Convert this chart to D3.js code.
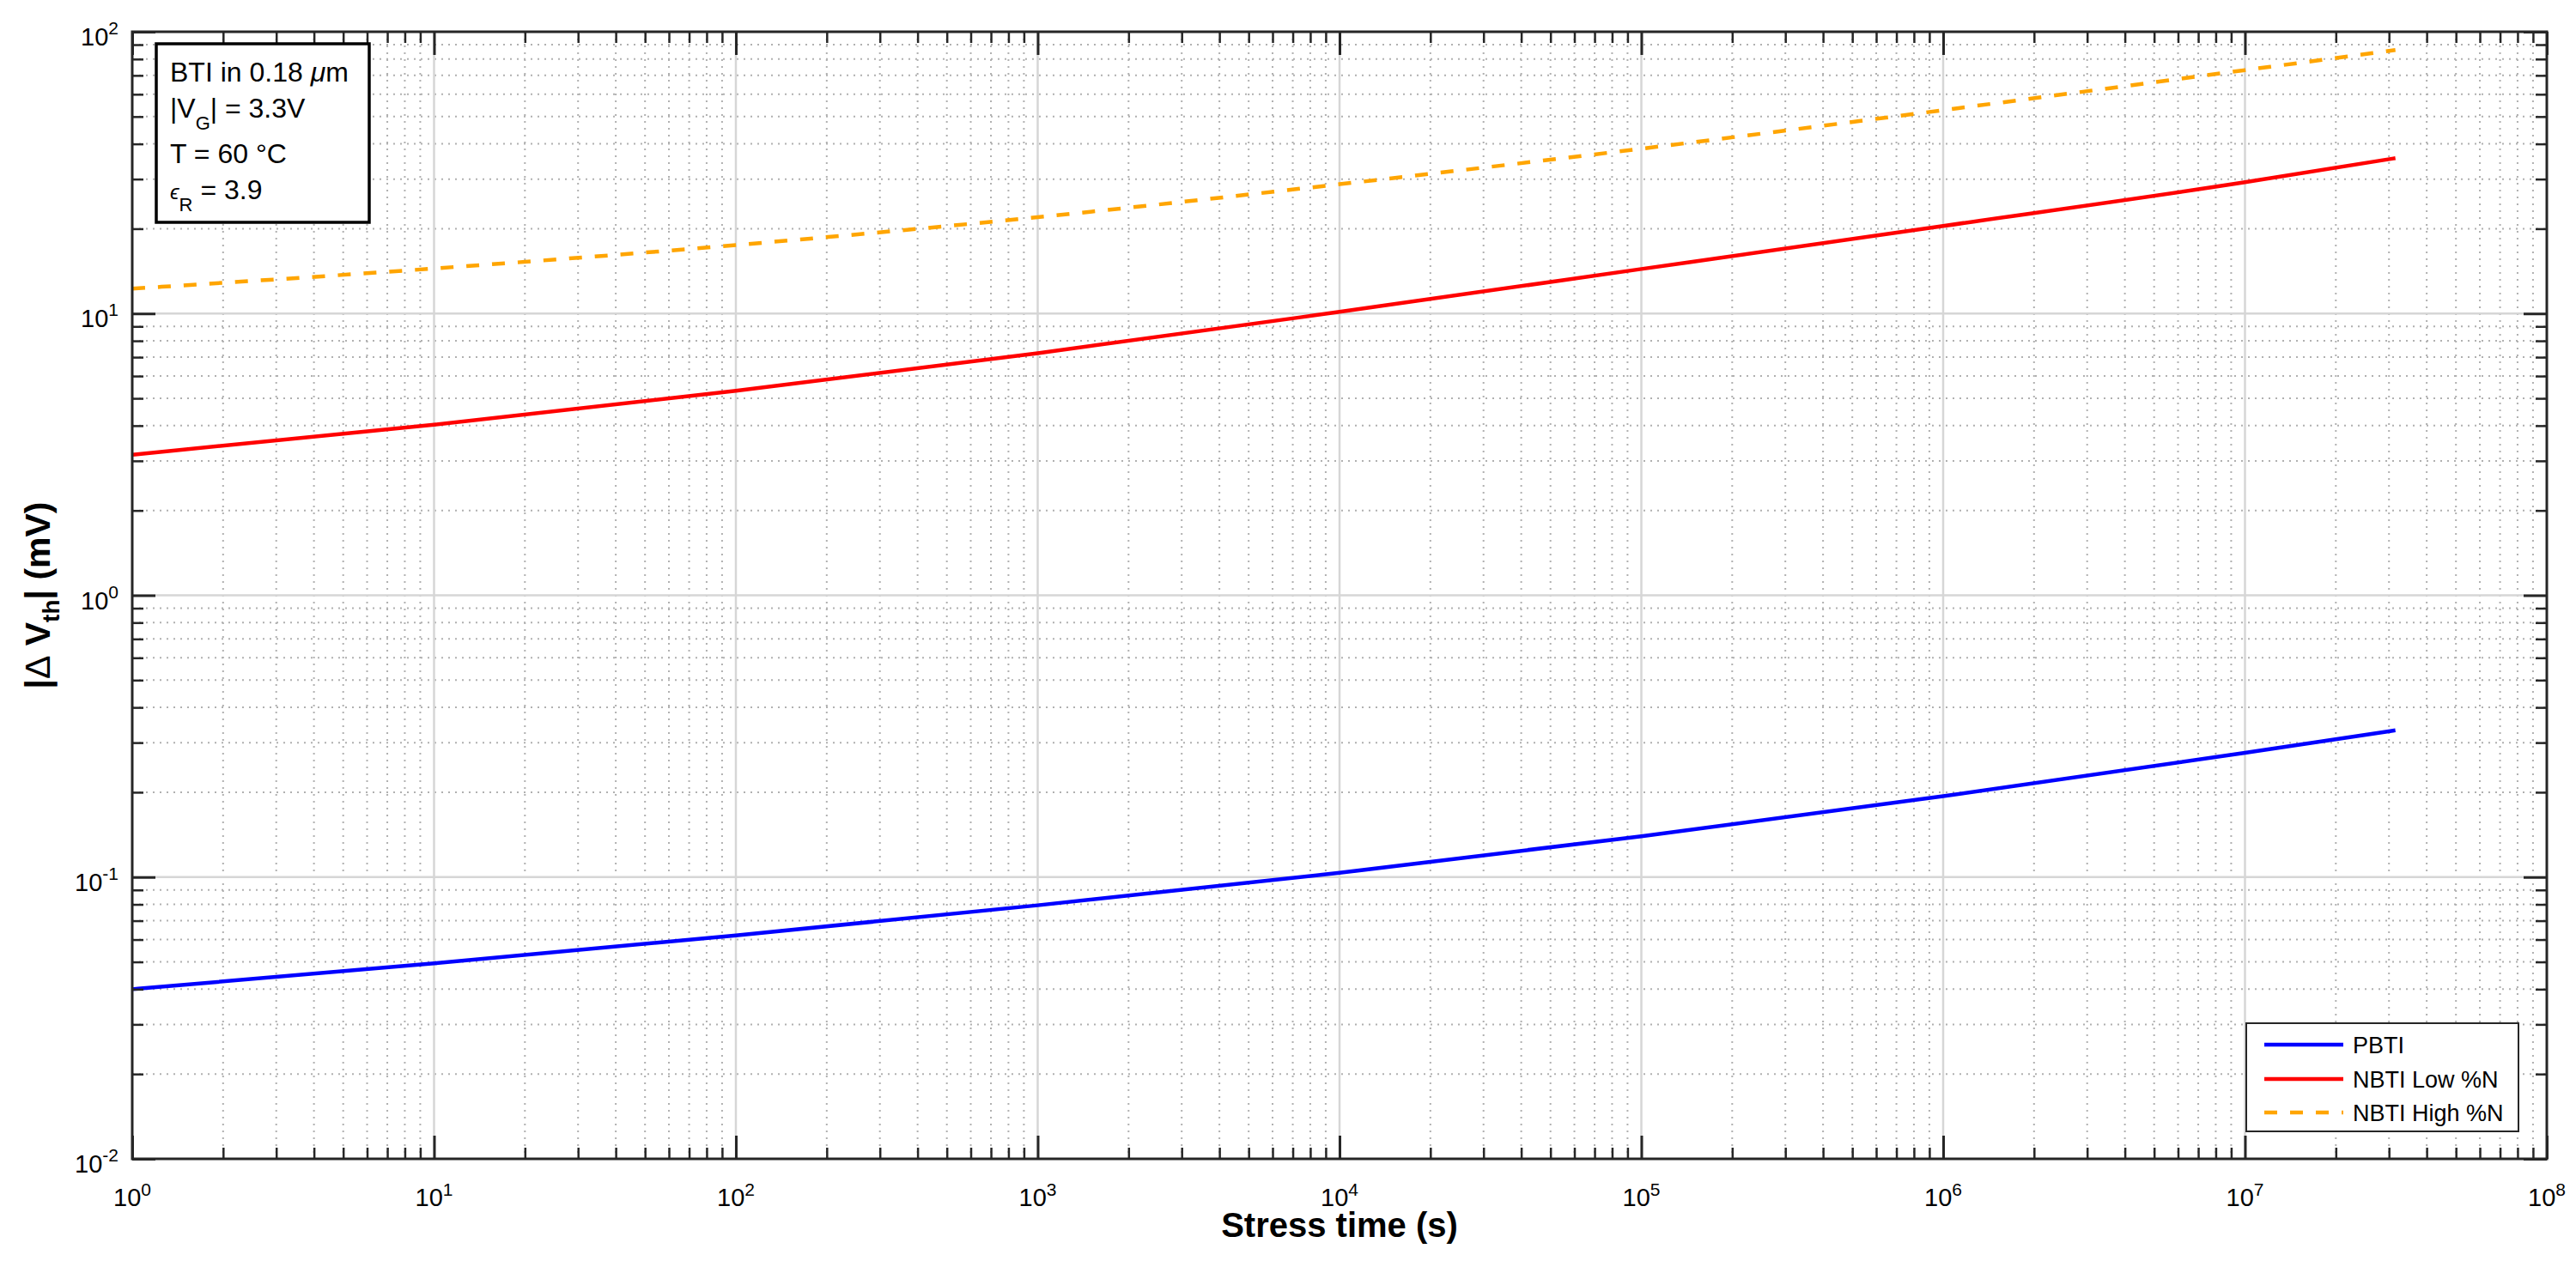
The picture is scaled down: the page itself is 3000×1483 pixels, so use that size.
<!DOCTYPE html>
<html><head><meta charset="utf-8">
<script src="https://cdn.jsdelivr.net/npm/d3@7"></script>
<style>
body{margin:0;background:#fff}
text{font-family:"Liberation Sans",Arial,Helvetica,sans-serif;fill:#000}
</style>
</head><body>
<svg id="chart" width="3000" height="1483"></svg>
<script>
// ---- data ----
const stressTime = [1, 10, 100, 1e3, 1e4, 1e5, 1e6, 1e7, 3.15e7];
const pbti     = [0.0400, 0.0494, 0.0621, 0.0794, 0.1035, 0.1396, 0.1936, 0.2761, 0.3319];
const nbtiLow  = [3.155, 4.03, 5.32, 7.23, 10.14, 14.39, 20.46, 29.24, 35.6];
const nbtiHigh = [12.25, 14.45, 17.5, 21.98, 28.77, 38.46, 52.7, 73.1, 86.1];
const seriesNames  = ["PBTI", "NBTI Low %N", "NBTI High %N"];
const seriesColors = ["#0000ff", "#ff0000", "#ffa500"];
const seriesDash   = [null, null, "15,15"];
const xTickExps = [0, 1, 2, 3, 4, 5, 6, 7, 8];
const yTickExps = [-2, -1, 0, 1, 2];
const infoLines = ["BTI in 0.18 ", "|V", "| = 3.3V", "T = 60 °C", " = 3.9"];

// ---- layout ----
const L = 154, R = 2966, T = 37, B = 1350;
const svg = d3.select("#chart");
svg.append("rect").attr("width", 3000).attr("height", 1483).attr("fill", "#fff");

const x = d3.scaleLog().domain([1, 1e8]).range([L, R]);
const y = d3.scaleLog().domain([1e-2, 1e2]).range([B, T]);

const xMajor = xTickExps.map(e => Math.pow(10, e));
const yMajor = yTickExps.map(e => Math.pow(10, e));
const xMinor = [], yMinor = [];
for (let e = 0; e < 8; e++) for (let k = 2; k <= 9; k++) xMinor.push(k * Math.pow(10, e));
for (let e = -2; e < 2; e++) for (let k = 2; k <= 9; k++) yMinor.push(k * Math.pow(10, e));

// ---- grid ----
const grid = svg.append("g");
grid.selectAll(".gxm").data(xMinor).join("line")
  .attr("x1", d => x(d)).attr("x2", d => x(d)).attr("y1", T).attr("y2", B)
  .attr("stroke", "#b0b0b0").attr("stroke-width", 2).attr("stroke-dasharray", "2,6");
grid.selectAll(".gym").data(yMinor).join("line")
  .attr("y1", d => y(d)).attr("y2", d => y(d)).attr("x1", L).attr("x2", R)
  .attr("stroke", "#b0b0b0").attr("stroke-width", 2).attr("stroke-dasharray", "2,6");
grid.selectAll(".gxM").data(xMajor.slice(1, -1)).join("line")
  .attr("x1", d => x(d)).attr("x2", d => x(d)).attr("y1", T).attr("y2", B)
  .attr("stroke", "#d6d6d6").attr("stroke-width", 2.5);
grid.selectAll(".gyM").data(yMajor.slice(1, -1)).join("line")
  .attr("y1", d => y(d)).attr("y2", d => y(d)).attr("x1", L).attr("x2", R)
  .attr("stroke", "#d6d6d6").attr("stroke-width", 2.5);

// ---- curves ----
const allSeries = [pbti, nbtiLow, nbtiHigh];
const line = d3.line().x(d => x(d[0])).y(d => y(d[1])).curve(d3.curveMonotoneX);
allSeries.forEach((vals, i) => {
  svg.append("path")
    .attr("d", line(stressTime.map((t, j) => [t, vals[j]])))
    .attr("fill", "none").attr("stroke", seriesColors[i]).attr("stroke-width", 4.5)
    .attr("stroke-dasharray", seriesDash[i]);
});

// ---- axes (ticks) ----
const axCol = "#262626";
function styleAxis(g, w) {
  g.select(".domain").remove();
  g.selectAll("line").attr("stroke", axCol).attr("stroke-width", w);
  g.selectAll("text").remove();
}
svg.append("g").attr("transform", `translate(0,${B})`)
  .call(d3.axisBottom(x).tickValues(xMajor).tickSizeInner(-27).tickSizeOuter(0).tickFormat(""))
  .call(g => styleAxis(g, 3));
svg.append("g").attr("transform", `translate(0,${B})`)
  .call(d3.axisBottom(x).tickValues(xMinor).tickSizeInner(-13).tickSizeOuter(0).tickFormat(""))
  .call(g => styleAxis(g, 2.5));
svg.append("g").attr("transform", `translate(0,${T})`)
  .call(d3.axisTop(x).tickValues(xMajor).tickSizeInner(-27).tickSizeOuter(0).tickFormat(""))
  .call(g => styleAxis(g, 3));
svg.append("g").attr("transform", `translate(0,${T})`)
  .call(d3.axisTop(x).tickValues(xMinor).tickSizeInner(-13).tickSizeOuter(0).tickFormat(""))
  .call(g => styleAxis(g, 2.5));
svg.append("g").attr("transform", `translate(${L},0)`)
  .call(d3.axisLeft(y).tickValues(yMajor).tickSizeInner(-27).tickSizeOuter(0).tickFormat(""))
  .call(g => styleAxis(g, 3));
svg.append("g").attr("transform", `translate(${L},0)`)
  .call(d3.axisLeft(y).tickValues(yMinor).tickSizeInner(-13).tickSizeOuter(0).tickFormat(""))
  .call(g => styleAxis(g, 2.5));
svg.append("g").attr("transform", `translate(${R},0)`)
  .call(d3.axisRight(y).tickValues(yMajor).tickSizeInner(-27).tickSizeOuter(0).tickFormat(""))
  .call(g => styleAxis(g, 3));
svg.append("g").attr("transform", `translate(${R},0)`)
  .call(d3.axisRight(y).tickValues(yMinor).tickSizeInner(-13).tickSizeOuter(0).tickFormat(""))
  .call(g => styleAxis(g, 2.5));

svg.append("rect").attr("x", L).attr("y", T).attr("width", R - L).attr("height", B - T)
  .attr("fill", "none").attr("stroke", axCol).attr("stroke-width", 3);

// ---- tick labels ----
xTickExps.forEach(e => {
  const t = svg.append("text").attr("x", x(Math.pow(10, e))).attr("y", 1405)
    .attr("text-anchor", "middle").attr("font-size", 29);
  t.append("tspan").text("10");
  t.append("tspan").attr("dy", -12).attr("font-size", 21).text(e);
});
yTickExps.forEach(e => {
  const t = svg.append("text").attr("x", 138).attr("y", y(Math.pow(10, e)) + 16)
    .attr("text-anchor", "end").attr("font-size", 29);
  t.append("tspan").text("10");
  t.append("tspan").attr("dy", -13).attr("font-size", 21).text(e);
});

// ---- axis titles ----
svg.append("text").attr("x", (L + R) / 2).attr("y", 1441).attr("text-anchor", "middle")
  .attr("font-size", 40).attr("font-weight", "bold").text("Stress time (s)");
const yl = svg.append("text").attr("transform", `translate(58,${(T + B) / 2}) rotate(-90)`)
  .attr("text-anchor", "middle").attr("font-size", 41).attr("font-weight", "bold");
yl.append("tspan").text("|");
yl.append("tspan").attr("font-weight", "normal").text("Δ");
yl.append("tspan").text(" V");
yl.append("tspan").attr("dy", 11).attr("font-size", 28).text("th");
yl.append("tspan").attr("dy", -11).text("| (mV)");

// ---- info box ----
svg.append("rect").attr("x", 182).attr("y", 51).attr("width", 248).attr("height", 208)
  .attr("fill", "#fff").attr("stroke", "#000").attr("stroke-width", 3.5);
const fs = 32;
let t1 = svg.append("text").attr("x", 198).attr("y", 95).attr("font-size", fs);
t1.append("tspan").text(infoLines[0]);
t1.append("tspan").attr("font-style", "italic").text("μ");
t1.append("tspan").text("m");
let t2 = svg.append("text").attr("x", 198).attr("y", 137).attr("font-size", fs);
t2.append("tspan").text(infoLines[1]);
t2.append("tspan").attr("dy", 14).attr("font-size", 22).text("G");
t2.append("tspan").attr("dy", -14).text(infoLines[2]);
svg.append("text").attr("x", 198).attr("y", 190).attr("font-size", fs).text(infoLines[3]);
let t4 = svg.append("text").attr("x", 198).attr("y", 232).attr("font-size", fs);
t4.append("tspan").attr("font-style", "italic").attr("font-size", 24).text("ϵ");
t4.append("tspan").attr("dy", 14).attr("font-size", 22).text("R");
t4.append("tspan").attr("dy", -14).text(infoLines[4]);

// ---- legend ----
svg.append("rect").attr("x", 2616).attr("y", 1192).attr("width", 317).attr("height", 126)
  .attr("fill", "#fff").attr("stroke", axCol).attr("stroke-width", 2);
const rowY = [1217, 1257, 1296];
seriesNames.forEach((n, i) => {
  svg.append("line").attr("x1", 2637).attr("x2", 2729).attr("y1", rowY[i]).attr("y2", rowY[i])
    .attr("stroke", seriesColors[i]).attr("stroke-width", 4.5).attr("stroke-dasharray", seriesDash[i]);
  svg.append("text").attr("x", 2740).attr("y", rowY[i] + 10).attr("font-size", 27).text(n);
});
</script>
</body></html>
